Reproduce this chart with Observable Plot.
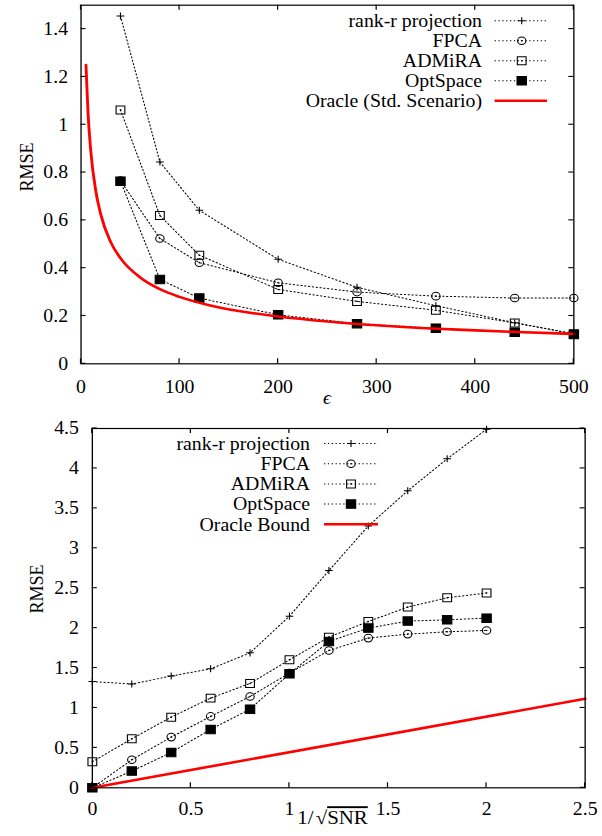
<!DOCTYPE html>
<html><head><meta charset="utf-8">
<script src="https://cdn.jsdelivr.net/npm/d3@7"></script>
<script src="https://cdn.jsdelivr.net/npm/@observablehq/plot@0.6"></script>
<style>
body{margin:0;background:#fff;}
#charts{width:602px;}
svg{display:block}
</style></head><body>
<div id="charts"></div>
<script>
// ---------- data: top panel (RMSE vs epsilon) ----------
const seriesNames = ["rank-r projection", "FPCA", "ADMiRA", "OptSpace"];
const topOracleName = "Oracle (Std. Scenario)";
const bottomOracleName = "Oracle Bound";

const topEps = [40, 80, 120, 200, 280, 360, 440, 500];
const topRankR = [1.455, 0.844, 0.642, 0.437, 0.320, 0.243, 0.172, 0.125];
const topFPCA = [0.766, 0.524, 0.423, 0.339, 0.300, 0.283, 0.275, 0.275];
const topADMiRA = [1.062, 0.620, 0.454, 0.311, 0.261, 0.224, 0.171, 0.126];
const topOptSpace = [0.764, 0.353, 0.275, 0.205, 0.168, 0.149, 0.132, 0.123];
const topOracleEps = [5, 7, 10, 15, 20, 30, 40, 60, 80, 100, 130, 160, 200, 250, 300, 350, 400, 450, 500];
const topOracleRMSE = [1.25, 1.056, 0.884, 0.722, 0.625, 0.51, 0.442, 0.361, 0.312, 0.28, 0.245, 0.221, 0.198, 0.177, 0.161, 0.149, 0.14, 0.132, 0.125];
const topXTicks = [0, 100, 200, 300, 400, 500];
const topYTicks = [0, 0.2, 0.4, 0.6, 0.8, 1, 1.2, 1.4];

// ---------- data: bottom panel (RMSE vs 1/sqrt(SNR)) ----------
const botX = [0, 0.2, 0.4, 0.6, 0.8, 1.0, 1.2, 1.4, 1.6, 1.8, 2.0];
const botRankR = [1.33, 1.30, 1.40, 1.49, 1.69, 2.15, 2.72, 3.28, 3.72, 4.12, 4.49];
const botFPCA = [0, 0.351, 0.635, 0.894, 1.144, 1.436, 1.72, 1.875, 1.925, 1.954, 1.971];
const botADMiRA = [0.326, 0.614, 0.885, 1.123, 1.307, 1.603, 1.887, 2.083, 2.263, 2.38, 2.44];
const botOptSpace = [0, 0.209, 0.443, 0.731, 0.985, 1.428, 1.833, 2.0, 2.088, 2.104, 2.125];
const botOracleX = [0, 2.5];
const botOracleRMSE = [0, 1.115];
const botXTicks = [0, 0.5, 1, 1.5, 2, 2.5];
const botYTicks = [0, 0.5, 1, 1.5, 2, 2.5, 3, 3.5, 4, 4.5];

// ---------- drawing ----------
const SX = 1.1; // horizontal stretch of the original figure
const FONT = "'Liberation Serif', 'Times New Roman', 'DejaVu Serif', serif";
const symbols = ["plus", "circle", "square", "square"];
const fills = ["none", "none", "none", "black"];
const radii = [2.4, 3.8, 4.5, 4.8];
const centerDot = [false, true, true, false];
const TICK = 5;
const fmt = d => String(d);

function rowsOf(xs, ys) { return xs.map((x, i) => ({x, y: ys[i]})); }

function buildChart(cfg) {
  const W = 602 / SX;
  const marks = [
    Plot.axisX({ticks: cfg.xTicks, tickSize: 0, tickPadding: cfg.xPad, tickFormat: fmt, label: null}),
    Plot.axisY({ticks: cfg.yTicks, tickSize: 0, tickPadding: cfg.yPad, tickFormat: fmt, label: null})
  ];
  cfg.series.forEach((ys, i) => {
    marks.push(Plot.line(rowsOf(cfg.xs, ys), {x: "x", y: "y", stroke: "black", strokeWidth: 1, strokeDasharray: "1.2,2.3"}));
  });
  cfg.series.forEach((ys, i) => {
    const rows = rowsOf(cfg.xs, ys);
    marks.push(Plot.dot(rows, {x: "x", y: "y", symbol: symbols[i], r: radii[i], stroke: "black", strokeWidth: 1, fill: fills[i]}));
    if (centerDot[i]) marks.push(Plot.dot(rows, {x: "x", y: "y", r: 0.8, fill: "black", stroke: "none"}));
  });
  marks.push(Plot.line(rowsOf(cfg.oracleX, cfg.oracleY), {x: "x", y: "y", stroke: "#ff0000", strokeWidth: 2.6, curve: "monotone-x"}));
  marks.push(Plot.frame({stroke: "black", strokeWidth: 1.2}));

  const svg = Plot.plot({
    width: W, height: cfg.height,
    marginLeft: cfg.mL / SX, marginRight: cfg.mR / SX, marginTop: cfg.mT, marginBottom: cfg.mB,
    style: {fontFamily: FONT, fontSize: "18px", background: "white", color: "black", overflow: "visible"},
    x: {domain: cfg.xDomain},
    y: {domain: cfg.yDomain},
    marks
  });
  svg.setAttribute("width", 602);
  svg.setAttribute("viewBox", `0 0 ${W} ${cfg.height}`);
  svg.setAttribute("preserveAspectRatio", "none");
  svg.style.maxWidth = "none";
  svg.style.width = "602px";
  svg.style.height = cfg.height + "px";

  const g = d3.select(svg).append("g").attr("font-family", FONT).attr("font-size", 18).attr("fill", "black");

  // inward mirrored ticks, placed with the chart's own scales
  const sx = svg.scale("x"), sy = svg.scale("y");
  const [x0, x1] = sx.range, [y0, y1] = sy.range; // y0 bottom, y1 top
  const tg = g.append("g").attr("stroke", "black").attr("stroke-width", 1.1);
  cfg.xTicks.forEach(v => {
    const px = sx.apply(v);
    tg.append("line").attr("x1", px).attr("x2", px).attr("y1", y0).attr("y2", y0 - TICK);
    tg.append("line").attr("x1", px).attr("x2", px).attr("y1", y1).attr("y2", y1 + TICK);
  });
  cfg.yTicks.forEach(v => {
    const py = sy.apply(v);
    tg.append("line").attr("x1", x0).attr("x2", x0 + TICK / SX).attr("y1", py).attr("y2", py);
    tg.append("line").attr("x1", x1).attr("x2", x1 - TICK / SX).attr("y1", py).attr("y2", py);
  });

  // y label
  g.append("text").attr("text-anchor", "middle").attr("dominant-baseline", "central")
    .attr("transform", `translate(${cfg.yLab[0] / SX},${cfg.yLab[1]}) rotate(-90)`).text("RMSE");
  // x label
  const xl = g.append("text").attr("text-anchor", "middle").attr("x", cfg.xLab[0] / SX).attr("y", cfg.xLab[1]);
  cfg.xLabel(xl);
  // legend
  const L = cfg.legend;
  const names = seriesNames.concat([cfg.oracleName]);
  names.forEach((name, i) => {
    const cy = L.y0 + i * L.dy;
    g.append("text").attr("x", L.textRight / SX).attr("y", cy).attr("dy", "0.35em").attr("text-anchor", "end").text(name);
    if (i < 4) {
      g.append("line").attr("x1", L.x1 / SX).attr("x2", L.x2 / SX).attr("y1", cy).attr("y2", cy)
        .attr("stroke", "black").attr("stroke-width", 1).attr("stroke-dasharray", "1.2,2.3");
      const sym = {plus: d3.symbolPlus, circle: d3.symbolCircle, square: d3.symbolSquare}[symbols[i]];
      g.append("path").attr("transform", `translate(${L.xm / SX},${cy})`)
        .attr("d", d3.symbol(sym, Math.PI * radii[i] * radii[i])())
        .attr("fill", fills[i]).attr("stroke", "black").attr("stroke-width", 1);
      if (centerDot[i]) g.append("circle").attr("cx", L.xm / SX).attr("cy", cy).attr("r", 0.8).attr("fill", "black");
    } else {
      g.append("line").attr("x1", L.x1 / SX).attr("x2", L.x2 / SX).attr("y1", cy).attr("y2", cy)
        .attr("stroke", "#ff0000").attr("stroke-width", 2.6);
    }
  });
  return svg;
}

const root = document.getElementById("charts");
root.appendChild(buildChart({
  height: 410, mL: 80.5, mR: 28.7, mT: 4.7, mB: 46.7,
  xDomain: [0, 500], yDomain: [0, 1.5], xTicks: topXTicks, yTicks: topYTicks,
  xPad: 16, yPad: 11.8,
  xs: topEps, series: [topRankR, topFPCA, topADMiRA, topOptSpace],
  oracleX: topOracleEps, oracleY: topOracleRMSE, oracleName: topOracleName,
  yLab: [26, 167], xLab: [327, 404],
  xLabel: t => t.attr("font-style", "italic").text("ϵ"),
  legend: {y0: 20.7, dy: 20, textRight: 482, x1: 494.6, x2: 547, xm: 521.7}
}));
root.appendChild(buildChart({
  height: 426, mL: 91.8, mR: 17.4, mT: 18, mB: 48.7,
  xDomain: [0, 2.5], yDomain: [0, 4.5], xTicks: botXTicks, yTicks: botYTicks,
  xPad: 14.5, yPad: 12.2,
  xs: botX, series: [botRankR, botFPCA, botADMiRA, botOptSpace],
  oracleX: botOracleX, oracleY: botOracleRMSE, oracleName: bottomOracleName,
  yLab: [36.3, 179], xLab: [332.5, 414.3],
  xLabel: t => {
    t.attr("font-size", 19);
    t.append("tspan").text("1/");
    t.append("tspan").attr("dx", 2).text("√");
    t.append("tspan").attr("text-decoration", "overline").text("SNR");
  },
  legend: {y0: 33.5, dy: 20.2, textRight: 310, x1: 324, x2: 378, xm: 351}
}));
</script></body></html>
